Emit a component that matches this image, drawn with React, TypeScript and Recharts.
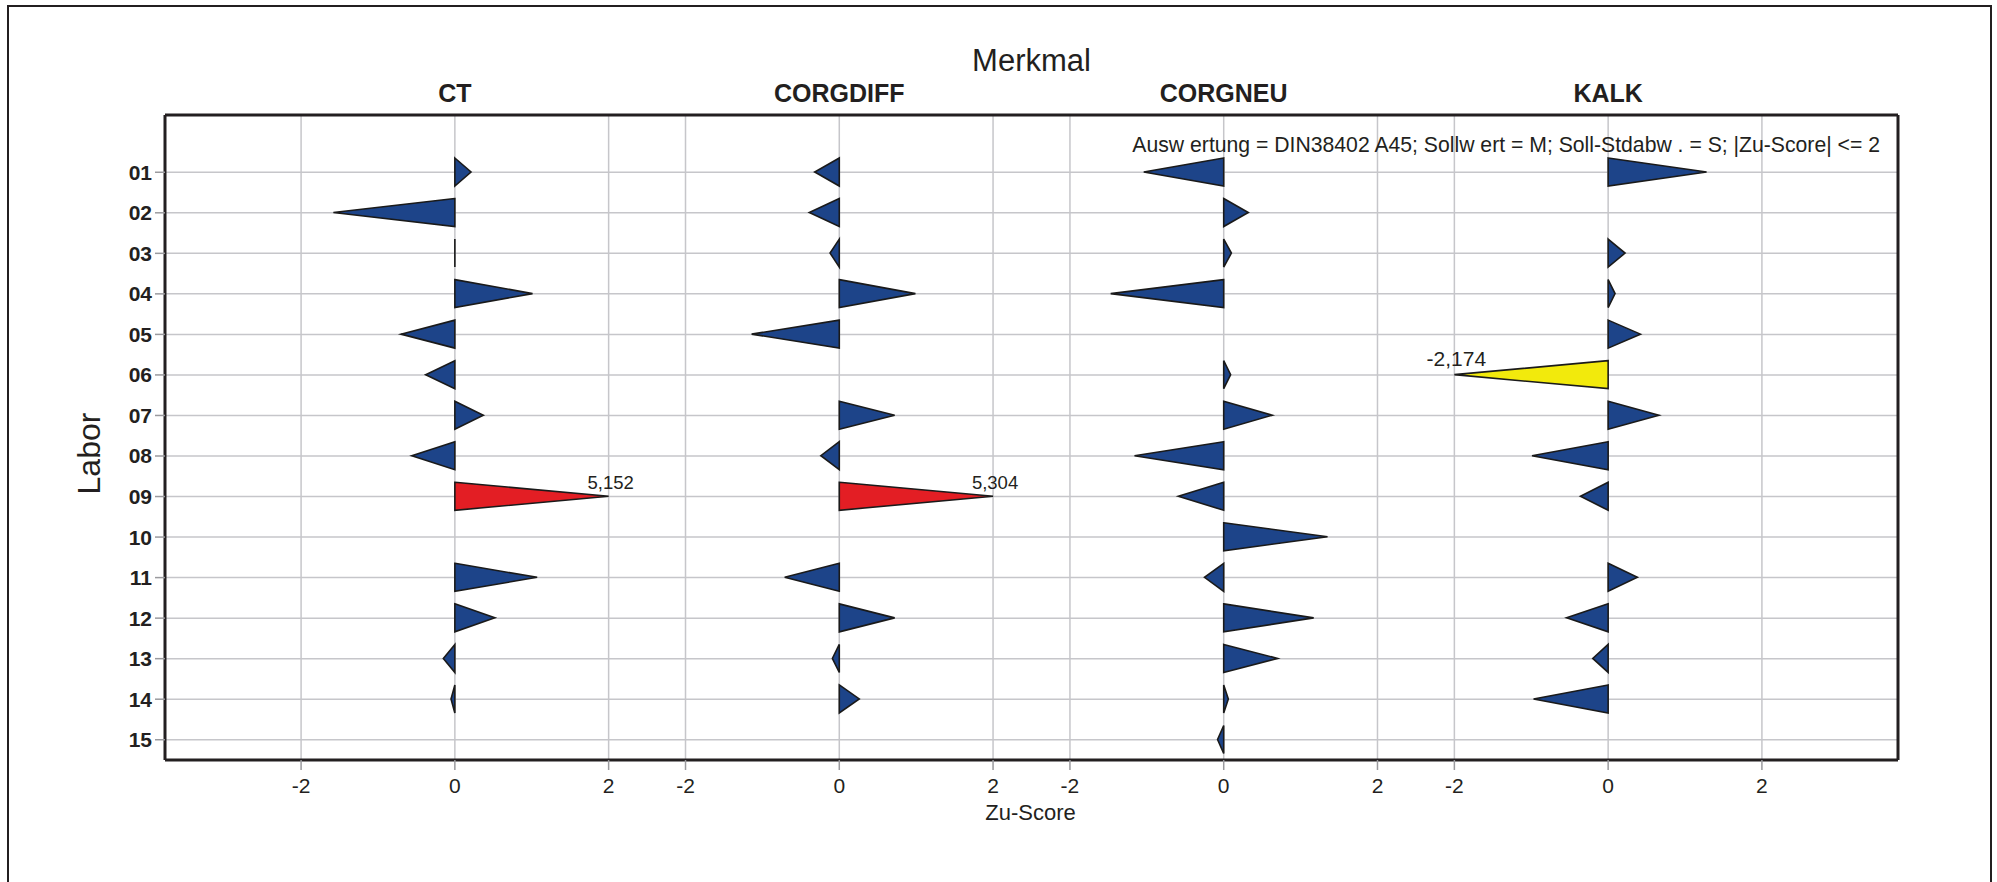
import React from "react";
import { ComposedChart, Bar, XAxis, YAxis, CartesianGrid, ReferenceLine } from "recharts";

// Labore (rows) and Merkmale (panels)
const labore = ["01", "02", "03", "04", "05", "06", "07", "08", "09", "10", "11", "12", "13", "14", "15"];
const merkmale = ["CT", "CORGDIFF", "CORGNEU", "KALK"];

// Zu-Scores per Merkmal, one entry per Labor (null = no value)
const ctScores = [0.21, -1.58, 0, 1.01, -0.7, -0.38, 0.37, -0.56, 5.152, null, 1.07, 0.52, -0.15, -0.05, null];
const corgdiffScores = [-0.32, -0.39, -0.12, 0.99, -1.14, null, 0.72, -0.24, 5.304, null, -0.71, 0.72, -0.09, 0.26, null];
const corgneuScores = [-1.04, 0.32, 0.1, -1.47, null, 0.09, 0.63, -1.16, -0.59, 1.35, -0.25, 1.17, 0.7, 0.06, -0.08];
const kalkScores = [1.28, null, 0.22, 0.09, 0.42, -2.174, 0.66, -0.99, -0.36, null, 0.38, -0.54, -0.2, -0.97, null];

const zTicks = [-2, 0, 2];
const annotation = "Ausw ertung = DIN38402 A45; Sollw ert = M; Soll-Stdabw . = S; |Zu-Score| <= 2";

const FONT = '"Liberation Sans", Arial, Helvetica, sans-serif';
const TEXT = "#231f20";
const BLUE = "#1d4489";
const RED = "#e31e24";
const YELLOW = "#f2ea0c";
const GRID = "#c6c6ca";

const PANEL_SPAN = 5;
const LIMIT = 2;
const X_MIN = -3.77;
const X_MAX = PANEL_SPAN * (merkmale.length - 1) + 3.77;
const BAR_SIZE = 28;

const scoreSets = [ctScores, corgdiffScores, corgneuScores, kalkScores];

const rows = labore.map((labor, i) => {
  const row: any = { labor, scores: scoreSets.map((s) => s[i]) };
  scoreSets.forEach((s, p) => {
    const v = s[i];
    const off = p * PANEL_SPAN;
    row[`r${p}`] = v == null ? null : [off, off + Math.max(-LIMIT, Math.min(LIMIT, v))];
  });
  return row;
});

const bottomTicks = merkmale.flatMap((_, p) => zTicks.map((t) => p * PANEL_SPAN + t));
const topTicks = merkmale.map((_, p) => p * PANEL_SPAN);

const makeTriangle = (p: number) => (props: any) => {
  const { x, y, width, height, payload } = props;
  const v = payload?.scores?.[p];
  if (v == null || !isFinite(x) || !isFinite(width)) return <g />;
  const left = Math.min(x, x + width);
  const right = Math.max(x, x + width);
  const base = v >= 0 ? left : right;
  const tip = v >= 0 ? right : left;
  const cy = y + height / 2;
  const abs = Math.abs(v);
  const fill = abs > 3 ? RED : abs > LIMIT ? YELLOW : BLUE;
  return (
    <g>
      <polygon
        points={`${base},${y} ${tip},${cy} ${base},${y + height}`}
        fill={fill}
        stroke="#1a1a1a"
        strokeWidth={1.6}
      />
      {abs > LIMIT && (
        <text
          x={tip + 2}
          y={cy - (abs > 3 ? 7 : 9)}
          textAnchor="middle"
          fontSize={abs > 3 ? 18.5 : 21}
          fill={TEXT}
        >
          {v.toFixed(3).replace(".", ",")}
        </text>
      )}
    </g>
  );
};

const TopTick = (props: any) => {
  const { x, y, payload } = props;
  return (
    <text x={x} y={y - 13} textAnchor="middle" fontWeight="bold" fontSize={25} fill={TEXT}>
      {merkmale[Math.round(payload.value / PANEL_SPAN)]}
    </text>
  );
};

export default function App() {
  return (
    <div
      style={{
        position: "absolute",
        left: 0,
        top: 0,
        width: 1997,
        height: 882,
        overflow: "hidden",
        background: "#fff",
        fontFamily: FONT,
      }}
    >
      <div
        style={{
          position: "absolute",
          left: 7,
          top: 5,
          width: 1985,
          height: 1000,
          border: `2px solid ${TEXT}`,
          boxSizing: "border-box",
        }}
      />
      <div style={{ position: "absolute", left: 0, top: 0 }}>
        <ComposedChart
          width={1997}
          height={882}
          data={rows}
          layout="vertical"
          barGap={-BAR_SIZE}
          margin={{ top: 0, right: 99, bottom: 0, left: 0 }}
        >
          <CartesianGrid stroke={GRID} strokeWidth={1.5} />
          <XAxis
            type="number"
            domain={[X_MIN, X_MAX]}
            allowDataOverflow
            ticks={bottomTicks}
            interval={0}
            tickFormatter={(v: number) => String(Math.round(v - Math.round(v / PANEL_SPAN) * PANEL_SPAN))}
            height={122}
            axisLine={{ stroke: TEXT, strokeWidth: 3 }}
            tickLine={{ stroke: "#9a9a9e", strokeWidth: 1.5 }}
            tickSize={10}
            tickMargin={8}
            tick={{ fill: TEXT, fontSize: 21 }}
            label={{
              content: (props: any) => {
                const vb = props.viewBox ?? { x: 165, y: 760, width: 1733 };
                return (
                  <text x={vb.x + vb.width / 2 - 1} y={vb.y + 60} textAnchor="middle" fontSize={22} fill={TEXT}>
                    Zu-Score
                  </text>
                );
              },
            }}
          />
          <XAxis
            xAxisId="top"
            orientation="top"
            type="number"
            domain={[X_MIN, X_MAX]}
            allowDataOverflow
            ticks={topTicks}
            interval={0}
            height={115}
            axisLine={{ stroke: TEXT, strokeWidth: 3 }}
            tickLine={false}
            tickSize={0}
            tickMargin={0}
            tick={<TopTick />}
            label={{
              content: (props: any) => {
                const vb = props.viewBox ?? { x: 165, y: 0, width: 1733 };
                return (
                  <text x={vb.x + vb.width / 2} y={vb.y + 71} textAnchor="middle" fontSize={31} fill={TEXT}>
                    Merkmal
                  </text>
                );
              },
            }}
          />
          <YAxis
            type="category"
            dataKey="labor"
            width={165}
            interval={0}
            padding={{ top: 37, bottom: 0 }}
            axisLine={{ stroke: TEXT, strokeWidth: 3 }}
            tickLine={{ stroke: "#9a9a9e", strokeWidth: 1.5 }}
            tickSize={10}
            tickMargin={3}
            tick={{ fill: TEXT, fontSize: 21, fontWeight: "bold" }}
            label={{
              content: (props: any) => {
                const vb = props.viewBox ?? { x: 0, y: 115, height: 645 };
                const cx = vb.x + 100;
                const cy = vb.y + vb.height / 2 + 16;
                return (
                  <text x={cx} y={cy} transform={`rotate(-90 ${cx} ${cy})`} textAnchor="middle" fontSize={32} fill={TEXT}>
                    Labor
                  </text>
                );
              },
            }}
          />
          {merkmale.map((m, p) => (
            <Bar key={m} dataKey={`r${p}`} barSize={BAR_SIZE} shape={makeTriangle(p)} isAnimationActive={false} />
          ))}
          <ReferenceLine
            x={X_MAX}
            stroke={TEXT}
            strokeWidth={3}
            label={{
              content: (props: any) => {
                const vb = props.viewBox ?? { x: 1898, y: 115 };
                return (
                  <text x={vb.x - 18} y={vb.y + 37} textAnchor="end" fontSize={21.2} fill={TEXT}>
                    {annotation}
                  </text>
                );
              },
            }}
          />
        </ComposedChart>
      </div>
    </div>
  );
}
